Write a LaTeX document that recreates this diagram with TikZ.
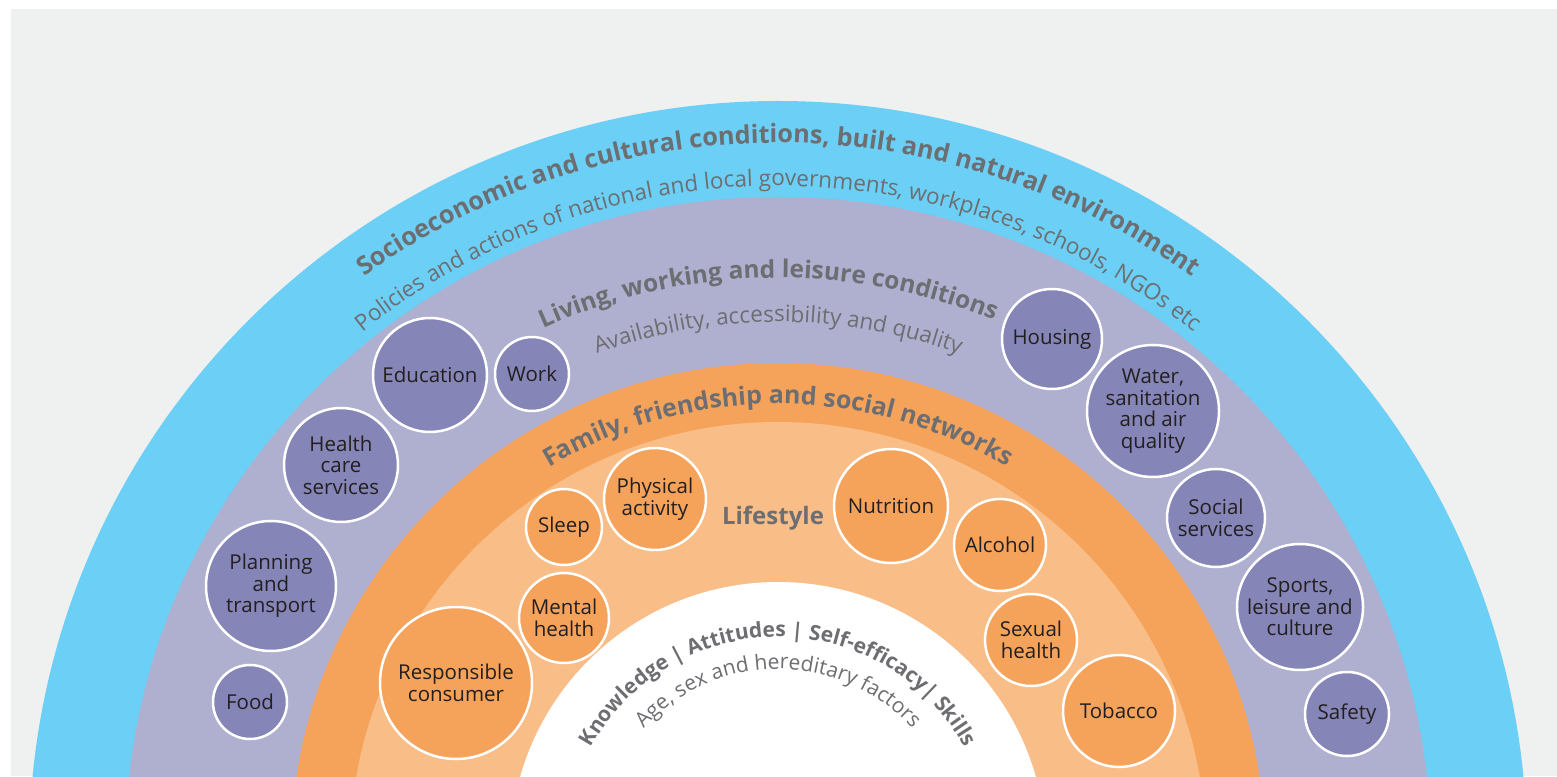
\documentclass[tikz,border=0pt]{standalone}
\usepackage{fontspec}
\setmainfont{Open Sans}
\usetikzlibrary{decorations.text}
\definecolor{paper}{RGB}{239,241,240}
\definecolor{skyblue}{RGB}{107,207,246}
\definecolor{lavender}{RGB}{175,175,208}
\definecolor{settingpurple}{RGB}{133,133,183}
\definecolor{deeporange}{RGB}{245,163,91}
\definecolor{paleorange}{RGB}{249,189,135}
\definecolor{labelgray}{RGB}{109,110,113}
\definecolor{ink}{RGB}{35,31,32}

\begin{document}
\begin{tikzpicture}[x=1pt, y=1pt,
    setting/.style={circle, draw=white, line width=2.5pt, fill=settingpurple, inner sep=0pt, minimum size=#1, align=center, text=ink, font=\fontsize{20.5}{21.5}\selectfont},
    habit/.style={setting={#1}, fill=deeporange},
    ringtext/.style={decorate, decoration={text along path, text align=center, text color=labelgray, text={#1}}}
]

\useasboundingbox (0,0) rectangle (1557,776);
\fill[white] (0,0) rectangle (1557,776);
\fill[paper] (11,0) rectangle (1557,767);

% Rings
\begin{scope}
\clip (11,0) rectangle (1557,767);
\coordinate (O) at (778,-74);
\fill[skyblue] (O) circle[radius=749pt];
\fill[lavender] (O) circle[radius=653pt];
\fill[deeporange] (O) circle[radius=487pt];
\fill[paleorange] (O) circle[radius=428pt];
\fill[white] (O) circle[radius=268pt];
\end{scope}

% Ring labels
\path[ringtext={|\bfseries\fontsize{25.2}{30}\selectfont|Socioeconomic and cultural conditions, built and natural environment}]
    (O) ++(170:707pt) arc[start angle=170, end angle=10, radius=707pt];
\path[ringtext={|\fontsize{22.5}{26}\selectfont|Policies and actions of national and local governments, workplaces, schools, NGOs etc}]
    (O) ++(170:664pt) arc[start angle=170, end angle=10, radius=664pt];
\path[ringtext={|\bfseries\fontsize{24.5}{28}\selectfont|Living, working and leisure conditions}]
    (O) ++(171:572pt) arc[start angle=171, end angle=11, radius=572pt];
\path[ringtext={|\fontsize{22.5}{26}\selectfont|Availability, accessibility and quality}]
    (O) ++(170:528pt) arc[start angle=170, end angle=10, radius=528pt];
\path[ringtext={|\bfseries\fontsize{25}{28}\selectfont|Family, friendship and social networks}]
    (O) ++(170:446pt) arc[start angle=170, end angle=10, radius=446pt];
\path[decorate, decoration={text along path, text align=center, text color=labelgray,
    text format delimiters={[}{]}, text={[\bfseries\fontsize{21}{24}\selectfont]Knowledge | Attitudes | Self-efficacy| Skills}}]
    (O) ++(175:213pt) arc[start angle=175, end angle=5, radius=213pt];
\path[ringtext={|\fontsize{21}{24}\selectfont|Age, sex and hereditary factors}]
    (O) ++(175:181pt) arc[start angle=175, end angle=5, radius=181pt];

\node[font=\bfseries\fontsize{24}{28}\selectfont, text=labelgray] (life) at (773,258) {Lifestyle};

% Settings
\node[setting=114pt] (edu) at (430,401) {Education};
\node[setting=74pt] (work) at (532,402) {Work};
\node[setting=114pt] (care) at (341,311) {Health\\care\\services};
\node[setting=130pt] (plan) at (271,190) {Planning\\and\\transport};
\node[setting=74pt] (food) at (250,74) {Food};
\node[setting=100pt] (house) at (1052,437) {Housing};
\node[setting=132pt] (water) at (1153,365) {Water,\\sanitation\\and air\\quality};
\node[setting=98pt] (social) at (1216,258) {Social\\services};
\node[setting=126pt] (sport) at (1300,169) {Sports,\\leisure and\\culture};
\node[setting=84pt] (safe) at (1347,62) {Safety};

% Lifestyle habits
\node[habit=102pt] (phys) at (655,277) {Physical\\activity};
\node[habit=76pt] (sleep) at (564,249) {Sleep};
\node[habit=90pt] (mental) at (564,158) {Mental\\health};
\node[habit=152pt] (consumer) at (456,93) {Responsible\\consumer};
\node[habit=114pt] (food2) at (891,270) {Nutrition};
\node[habit=92pt] (alc) at (1000,231) {Alcohol};
\node[habit=92pt] (sex) at (1031,136) {Sexual\\health};
\node[habit=112pt] (tob) at (1119,65) {Tobacco};

\end{tikzpicture}
\end{document}
